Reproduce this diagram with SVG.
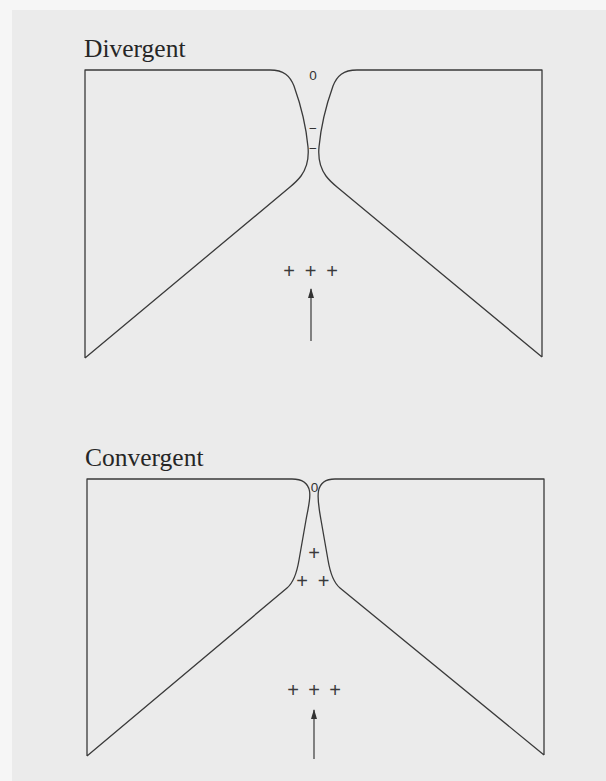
<svg xmlns="http://www.w3.org/2000/svg" width="606" height="781" viewBox="0 0 606 781">
  <defs>
    <style>
      .wall { fill: none; stroke: #3a3a3a; stroke-width: 1.3; stroke-linejoin: round; }
      .title { font-family: "Liberation Serif", "Times New Roman", serif; font-size: 25.5px; fill: #262626; }
      .mark { font-family: "Liberation Sans", Arial, sans-serif; font-size: 13.5px; fill: #333; text-anchor: middle; }
      .plus { font-family: "Liberation Sans", Arial, sans-serif; font-size: 20px; fill: #3a3a3a; text-anchor: middle; }
      .shaft { stroke: #3a3a3a; stroke-width: 1.2; fill: none; }
    </style>
    <marker id="head" viewBox="0 0 10 6" refX="9" refY="3" markerWidth="10" markerHeight="6" markerUnits="userSpaceOnUse" orient="auto">
      <path d="M0,0 L10,3 L0,6 Z" fill="#333"/>
    </marker>
  </defs>

  <rect x="0" y="0" width="606" height="781" fill="#ebebeb"/>
  <rect x="0" y="0" width="12" height="781" fill="#f6f6f6"/>
  <rect x="0" y="0" width="606" height="10" fill="#f6f6f6"/>

  <!-- Divergent nozzle -->
  <g id="divergent">
    <text class="title" x="84" y="57">Divergent</text>
    <path class="wall" d="M85,358 V70 H270 C284,70 290,76 294,86 C299,100 306,125 308,147 C309,158 307,168 301,176 C298,180 294.8,183 290,187 L85,358"/>
    <path class="wall" d="M542,357 V70 H357 C343,70 337,76 333,86 C328,100 321,125 319,147 C318,158 320,168 326,176 C329,180 332.2,183 337,187 L542,357"/>
    <text class="mark" x="313" y="80">0</text>
    <text class="mark" x="313" y="133">−</text>
    <text class="mark" x="313" y="152.5">−</text>
    <text class="plus" x="289 300 310.5 321 332" y="278">+ + +</text>
  </g>

  <!-- Convergent nozzle -->
  <g id="convergent">
    <text class="title" x="85" y="466">Convergent</text>
    <path class="wall" d="M87,756 V479 H292 C302,479 308,483 309.5,491 C311,499 308,508 306,520 L299,560 C297,572 293,583 287,588 L87,756"/>
    <path class="wall" d="M544,755 V479 H335 C326,479 320,483 318.5,491 C317,499 319,508 321,520 L328,560 C330,572 334,583 340,588 L544,755"/>
    <text class="mark" x="314.5" y="491.5">0</text>
    <text class="plus" x="314" y="559.5">+</text>
    <text class="plus" x="302 312.7 323.5" y="587.5">+ +</text>
    <text class="plus" x="293 303.5 314 324.5 335" y="697">+ + +</text>
  </g>

  <!-- Flow arrows -->
  <g id="connectors">
    <line class="shaft" x1="311" y1="341" x2="311" y2="289" marker-end="url(#head)"/>
    <line class="shaft" x1="314" y1="759" x2="314" y2="710" marker-end="url(#head)"/>
  </g>
</svg>
